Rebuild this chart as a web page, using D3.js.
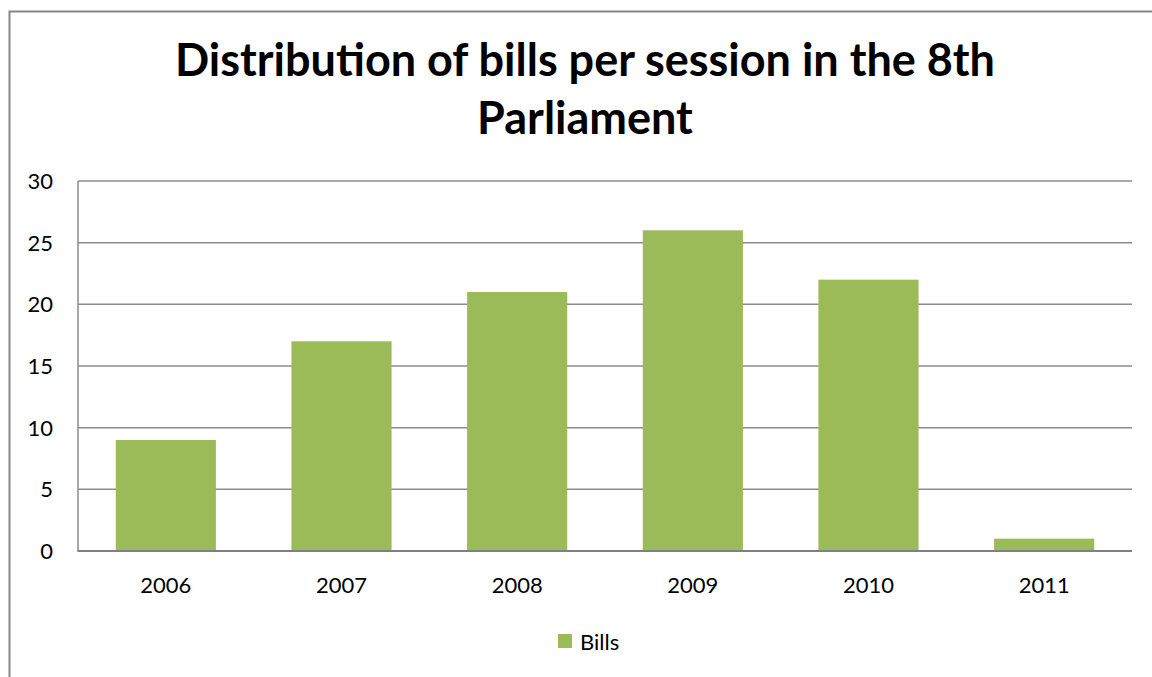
<!DOCTYPE html>
<html><head><meta charset="utf-8">
<script src="https://cdn.jsdelivr.net/npm/d3@7"></script>
<style>body{margin:0;background:#fff;} svg{display:block;}</style>
</head><body>
<script>
const categories = ["2006","2007","2008","2009","2010","2011"];
const bills = [9,17,21,26,22,1];
const yTicks = [0,5,10,15,20,25,30];
const seriesName = "Bills";
const titleLines = ["Distribution of bills per session in the 8th","Parliament"];

const W=1152,H=677;
const svg=d3.select("body").append("svg").attr("width",W).attr("height",H);
const font="Lato, 'Open Sans', sans-serif";
svg.append("rect").attr("x",9.5).attr("y",11.5).attr("width",1200).attr("height",700)
  .attr("fill","#fff").attr("stroke","#878787").attr("stroke-width",2);

const m={l:78,r:1132,t:181,b:551};
const x=d3.scaleBand().domain(categories).range([m.l,m.r]).paddingInner(0.43).paddingOuter(0.215);
const y=d3.scaleLinear().domain([0,30]).range([m.b,m.t]);

// grid
svg.append("g").selectAll("line").data(yTicks.filter(d=>d>0)).join("line")
  .attr("x1",m.l).attr("x2",m.r).attr("y1",d=>y(d)).attr("y2",d=>y(d))
  .attr("stroke","#8c8c8c").attr("stroke-width",1.5);

// bars
svg.append("g").selectAll("rect").data(bills).join("rect")
  .attr("x",(d,i)=>x(categories[i])).attr("width",x.bandwidth())
  .attr("y",d=>y(d)).attr("height",d=>y(0)-y(d)).attr("fill","#9bbb59");

// axes lines
svg.append("line").attr("x1",m.l).attr("x2",m.l).attr("y1",m.t).attr("y2",m.b+1)
  .attr("stroke","#8c8c8c").attr("stroke-width",1.5);
svg.append("line").attr("x1",m.l).attr("x2",m.r).attr("y1",m.b).attr("y2",m.b)
  .attr("stroke","#808080").attr("stroke-width",2);

// y labels
svg.append("g").selectAll("text").data(yTicks).join("text")
  .attr("x",53).attr("y",d=>y(d)+8).attr("text-anchor","end")
  .attr("font-family",font).attr("font-size",22).attr("fill","#000").text(d=>d);

// x labels
svg.append("g").selectAll("text").data(categories).join("text")
  .attr("x",d=>x(d)+x.bandwidth()/2).attr("y",593).attr("text-anchor","middle")
  .attr("font-family",font).attr("font-size",22).attr("fill","#000").text(d=>d);

// title
svg.append("g").selectAll("text").data(titleLines).join("text")
  .attr("x",585).attr("y",(d,i)=>76+i*58).attr("text-anchor","middle")
  .attr("font-family",font).attr("font-weight","bold").attr("font-size",45).attr("fill","#000").text(d=>d);

// legend
svg.append("rect").attr("x",558).attr("y",634).attr("width",14).attr("height",14).attr("fill","#9bbb59");
svg.append("text").attr("x",580).attr("y",650).attr("font-family",font).attr("font-size",22).text(seriesName);
</script>
</body></html>
